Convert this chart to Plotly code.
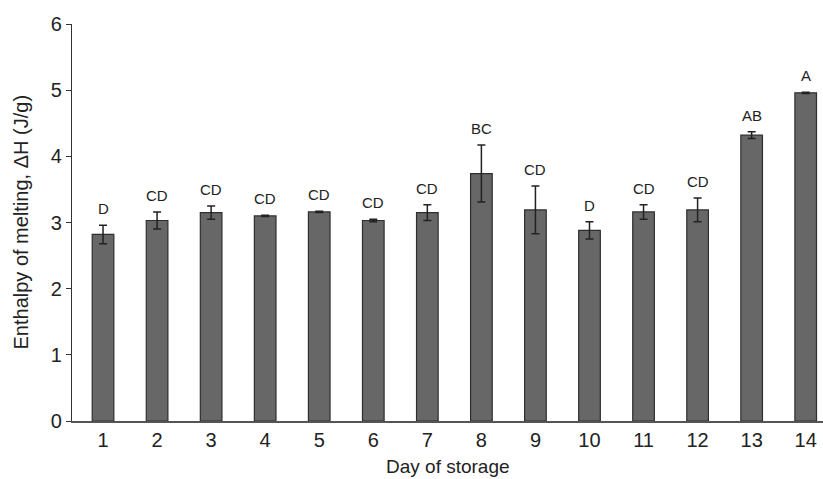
import plotly.graph_objects as go

days = list(range(1, 15))
enthalpy = [2.82, 3.03, 3.15, 3.10, 3.16, 3.03, 3.15, 3.74, 3.19, 2.88, 3.16, 3.19, 4.32, 4.96]
errors = [0.14, 0.13, 0.10, 0.01, 0.01, 0.02, 0.12, 0.43, 0.36, 0.13, 0.11, 0.18, 0.05, 0.01]
letters = ["D", "CD", "CD", "CD", "CD", "CD", "CD", "BC", "CD", "D", "CD", "CD", "AB", "A"]
y_ticks = [0, 1, 2, 3, 4, 5, 6]

FONT = "Liberation Sans, Arial, sans-serif"

fig = go.Figure()
fig.add_trace(go.Bar(
    x=days, y=enthalpy, width=0.40,
    marker=dict(color="#676767", line=dict(color="#2e2e2e", width=1.2)),
    error_y=dict(type="data", array=errors, visible=True, color="#222222",
                 thickness=1.5, width=4),
    showlegend=False, hoverinfo="x+y",
))

for d, v, e, t in zip(days, enthalpy, errors, letters):
    fig.add_annotation(x=d, y=v + e, text=t, showarrow=False, yanchor="bottom",
                       yshift=6, font=dict(family=FONT, size=15, color="#222"))

fig.add_annotation(xref="paper", yref="paper", x=0, y=0.5, xshift=-52,
                   xanchor="center", yanchor="middle",
                   text="Enthalpy of melting, ΔH (J/g)", textangle=-90,
                   showarrow=False, font=dict(family=FONT, size=20, color="#222"))
fig.add_annotation(xref="paper", yref="paper", x=0.5, y=0, yshift=-45,
                   xanchor="center", yanchor="middle",
                   text="Day of storage", showarrow=False,
                   font=dict(family=FONT, size=19, color="#222"))

fig.update_layout(
    width=823, height=479,
    margin=dict(l=72, r=0, t=24, b=58),
    paper_bgcolor="white", plot_bgcolor="white",
    font=dict(family=FONT, color="#222"),
    xaxis=dict(range=[0.426, 14.32], tickvals=days, ticktext=[str(d) for d in days],
               showline=True, linecolor="#555", linewidth=1.5, ticks="",
               showgrid=False, zeroline=False, tickfont=dict(size=20)),
    yaxis=dict(range=[0, 6], tickvals=y_ticks, showline=True, linecolor="#333",
               linewidth=1.2, ticks="outside", ticklen=5, tickcolor="#333",
               showgrid=False, zeroline=False, tickfont=dict(size=20)),
    bargap=0.6,
)

fig.write_html("out.html")
